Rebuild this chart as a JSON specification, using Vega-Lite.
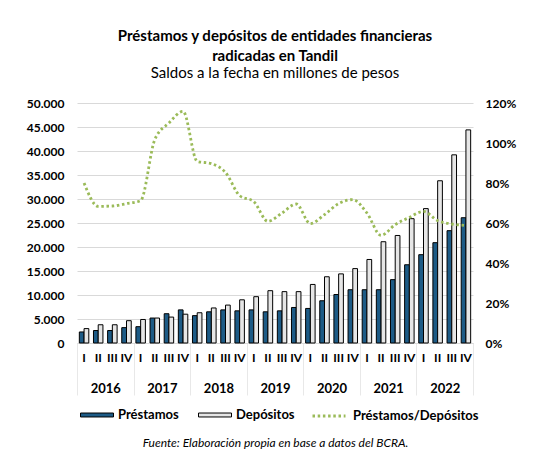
{
  "$schema": "https://vega.github.io/schema/vega-lite/v6.json",
  "width": 396,
  "height": 240,
  "autosize": "none",
  "padding": {"left": 77, "top": 103, "right": 83, "bottom": 123},
  "background": "white",
  "config": {
    "font": "Lato",
    "view": {"stroke": null},
    "locale": {"number": {"decimal": ",", "thousands": ".", "grouping": [3], "currency": ["$", ""]}},
    "axis": {"labelFont": "Lato", "labelColor": "#000000", "labelFontWeight": "bold", "labelFontSize": 12, "titleFont": "Lato"}
  },
  "title": {
    "text": ["Préstamos y depósitos de entidades financieras", "radicadas en Tandil"],
    "subtitle": "Saldos a la fecha en millones de pesos",
    "font": "Lato",
    "fontSize": 15,
    "fontWeight": "bold",
    "color": "#000000",
    "lineHeight": 20,
    "subtitleFont": "Lato",
    "subtitleFontSize": 15,
    "subtitleColor": "#000000",
    "subtitlePadding": 2,
    "anchor": "middle",
    "offset": 16
  },
  "datasets": {
    "saldos": [
      {"periodo": "2016 I", "anio": "2016", "Préstamos": 2300, "Depósitos": 3000, "ratio": 0.80},
      {"periodo": "2016 II", "anio": "2016", "Préstamos": 2600, "Depósitos": 3800, "ratio": 0.683},
      {"periodo": "2016 III", "anio": "2016", "Préstamos": 2600, "Depósitos": 3800, "ratio": 0.685},
      {"periodo": "2016 IV", "anio": "2016", "Préstamos": 3200, "Depósitos": 4650, "ratio": 0.697},
      {"periodo": "2017 I", "anio": "2017", "Préstamos": 3400, "Depósitos": 4900, "ratio": 0.712},
      {"periodo": "2017 II", "anio": "2017", "Préstamos": 5200, "Depósitos": 5200, "ratio": 1.017},
      {"periodo": "2017 III", "anio": "2017", "Préstamos": 6100, "Depósitos": 5400, "ratio": 1.10},
      {"periodo": "2017 IV", "anio": "2017", "Préstamos": 6900, "Depósitos": 6000, "ratio": 1.158},
      {"periodo": "2018 I", "anio": "2018", "Préstamos": 5700, "Depósitos": 6300, "ratio": 0.908},
      {"periodo": "2018 II", "anio": "2018", "Préstamos": 6500, "Depósitos": 7300, "ratio": 0.897},
      {"periodo": "2018 III", "anio": "2018", "Préstamos": 6900, "Depósitos": 7900, "ratio": 0.853},
      {"periodo": "2018 IV", "anio": "2018", "Préstamos": 6700, "Depósitos": 9000, "ratio": 0.737},
      {"periodo": "2019 I", "anio": "2019", "Préstamos": 6900, "Depósitos": 9650, "ratio": 0.707},
      {"periodo": "2019 II", "anio": "2019", "Préstamos": 6500, "Depósitos": 10900, "ratio": 0.608},
      {"periodo": "2019 III", "anio": "2019", "Préstamos": 6700, "Depósitos": 10700, "ratio": 0.65},
      {"periodo": "2019 IV", "anio": "2019", "Préstamos": 7400, "Depósitos": 10700, "ratio": 0.695},
      {"periodo": "2020 I", "anio": "2020", "Préstamos": 7200, "Depósitos": 12200, "ratio": 0.597},
      {"periodo": "2020 II", "anio": "2020", "Préstamos": 8800, "Depósitos": 13800, "ratio": 0.642},
      {"periodo": "2020 III", "anio": "2020", "Préstamos": 10100, "Depósitos": 14400, "ratio": 0.697},
      {"periodo": "2020 IV", "anio": "2020", "Préstamos": 11100, "Depósitos": 15500, "ratio": 0.717},
      {"periodo": "2021 I", "anio": "2021", "Préstamos": 11100, "Depósitos": 17400, "ratio": 0.65},
      {"periodo": "2021 II", "anio": "2021", "Préstamos": 11100, "Depósitos": 21100, "ratio": 0.538},
      {"periodo": "2021 III", "anio": "2021", "Préstamos": 13200, "Depósitos": 22400, "ratio": 0.592},
      {"periodo": "2021 IV", "anio": "2021", "Préstamos": 16300, "Depósitos": 25900, "ratio": 0.628},
      {"periodo": "2022 I", "anio": "2022", "Préstamos": 18400, "Depósitos": 28000, "ratio": 0.658},
      {"periodo": "2022 II", "anio": "2022", "Préstamos": 20900, "Depósitos": 33800, "ratio": 0.612},
      {"periodo": "2022 III", "anio": "2022", "Préstamos": 23400, "Depósitos": 39200, "ratio": 0.595},
      {"periodo": "2022 IV", "anio": "2022", "Préstamos": 26100, "Depósitos": 44400, "ratio": 0.588}
    ]
  },
  "data": {"name": "saldos"},
  "layer": [
    {
      "layer": [
        {
          "transform": [{"fold": ["Préstamos", "Depósitos"], "as": ["serie", "valor"]}],
          "mark": {"type": "bar", "stroke": "#000000", "strokeWidth": 1},
          "encoding": {
            "x": {
              "field": "periodo",
              "type": "nominal",
              "sort": null,
              "scale": {"paddingInner": 0.33, "paddingOuter": 0.165},
              "axis": {
                "title": null,
                "orient": "bottom",
                "labelAngle": 0,
                "labelExpr": "split(datum.label, ' ')[1]",
                "ticks": false,
                "domainColor": "#d9d9d9",
                "labelPadding": 9
              }
            },
            "xOffset": {"field": "serie", "type": "nominal", "sort": ["Préstamos", "Depósitos"], "scale": {"paddingInner": 0}},
            "y": {
              "field": "valor",
              "type": "quantitative",
              "scale": {"domain": [0, 50000]},
              "axis": {
                "title": null,
                "values": [0, 5000, 10000, 15000, 20000, 25000, 30000, 35000, 40000, 45000, 50000],
                "format": ",d",
                "gridColor": "#d9d9d9",
                "domain": false,
                "ticks": false,
                "labelPadding": 13
              }
            },
            "fill": {
              "field": "serie",
              "type": "nominal",
              "sort": ["Préstamos", "Depósitos"],
              "scale": {"domain": ["Préstamos", "Depósitos"], "range": ["#1d5b86", "#e6e6e6"]},
              "legend": {
                "title": null,
                "orient": "none",
                "direction": "horizontal",
                "legendX": 3,
                "legendY": 295,
                "symbolType": "M-1,-0.12H1V0.12H-1Z",
                "symbolSize": 1089,
                "symbolStrokeColor": "#000000",
                "symbolStrokeWidth": 1,
                "labelFont": "Lato",
                "labelFontSize": 13,
                "labelFontWeight": "bold",
                "labelColor": "#000000",
                "labelOffset": 4,
                "columnPadding": 17
              }
            }
          }
        },
        {
          "mark": {"type": "line", "interpolate": "monotone", "strokeWidth": 2.8, "strokeDash": [2.5, 2.7]},
          "encoding": {
            "x": {"field": "periodo", "type": "nominal", "sort": null},
            "y": {
              "field": "ratio",
              "type": "quantitative",
              "scale": {"domain": [0, 1.2]},
              "axis": {
                "title": null,
                "orient": "right",
                "values": [0, 0.2, 0.4, 0.6, 0.8, 1.0, 1.2],
                "format": ".0%",
                "grid": false,
                "domain": false,
                "ticks": false,
                "labelPadding": 12
              }
            },
            "stroke": {
              "datum": "Préstamos/Depósitos",
              "type": "nominal",
              "scale": {"range": ["#9bbb59"]},
              "legend": {
                "title": null,
                "orient": "none",
                "legendX": 234,
                "legendY": 295,
                "symbolType": "stroke",
                "symbolSize": 1089,
                "symbolDash": [2.5, 2.7],
                "symbolStrokeWidth": 2.8,
                "labelFont": "Lato",
                "labelFontSize": 13,
                "labelFontWeight": "bold",
                "labelColor": "#000000",
                "labelOffset": 6
              }
            }
          }
        }
      ],
      "resolve": {"scale": {"y": "independent"}}
    },
    {
      "mark": {"type": "rule", "opacity": 0},
      "encoding": {
        "x": {
          "field": "anio",
          "type": "nominal",
          "scale": {"type": "band", "paddingInner": 0, "paddingOuter": 0},
          "axis": {
            "title": "Fuente: Elaboración propia en base a datos del BCRA.",
            "orient": "bottom",
            "titleFont": "Lato",
            "titleFontSize": 12,
            "titleFontWeight": "normal",
            "titleFontStyle": "italic",
            "titleColor": "#000000",
            "titlePadding": 42,
            "labelAngle": 0,
            "labelFontSize": 13,
            "tickBand": "extent",
            "tickSize": 52,
            "tickColor": "#d9d9d9",
            "tickOpacity": 0.6,
            "tickWidth": 1,
            "domain": false,
            "labelPadding": -13
          }
        }
      }
    }
  ],
  "resolve": {"scale": {"x": "independent", "y": "independent"}}
}
